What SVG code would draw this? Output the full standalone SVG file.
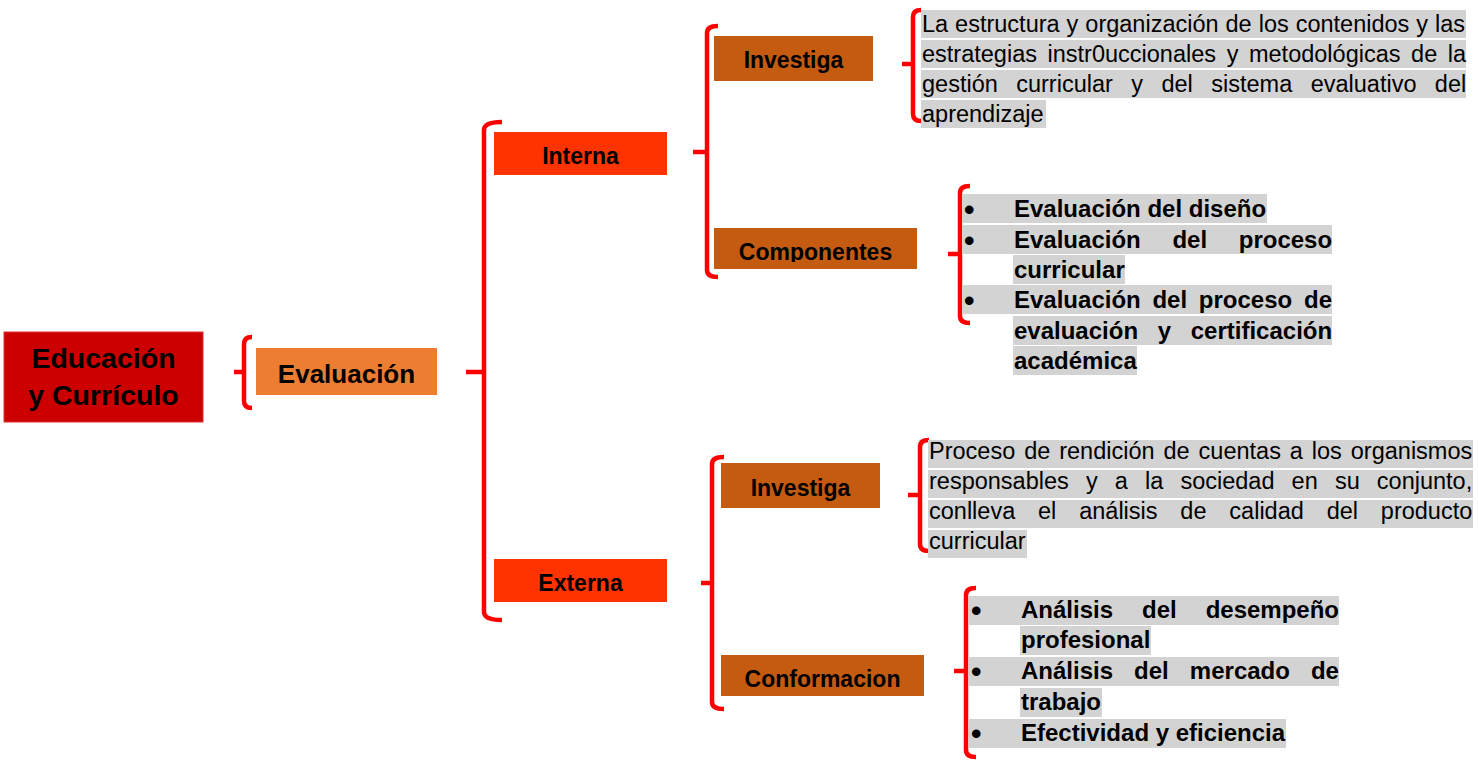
<svg xmlns="http://www.w3.org/2000/svg" width="1478" height="761" viewBox="0 0 1478 761">
<style>
.brace{fill:none;stroke:#FF0000;stroke-width:4.5;stroke-linecap:butt;stroke-linejoin:round}
.bx{font-family:"Liberation Sans",Arial,sans-serif;font-weight:bold;fill:#000;text-anchor:middle}
.p{font-family:"Liberation Sans",Arial,sans-serif;font-size:23.5px;fill:#000}
.b{font-family:"Liberation Sans",Arial,sans-serif;font-size:24px;font-weight:bold;fill:#000}
.bul{font-family:"Liberation Sans",Arial,sans-serif;font-size:30px;font-weight:bold;fill:#000}
.hl{fill:#D3D3D3}
.dk{fill:#C55A11}
.rd{fill:#FF3300}
</style>
<defs>
<clipPath id="clipComp"><rect x="714" y="228" width="203" height="34"/></clipPath>
</defs>
<rect width="1478" height="761" fill="#FFFFFF"/>

<g id="connectors">
<path class="brace" d="M252 337 Q244 337 244 344 L244 401 Q244 408 252 408 M234 372 L244 372"/>
<path class="brace" d="M502 122 Q484 122 484 130 L484 612 Q484 620 502 620 M466 372 L484 372"/>
<path class="brace" d="M718 26 Q707 26 707 33 L707 270 Q707 277 718 277 M693 152 L707 152"/>
<path class="brace" d="M724 457 Q712 457 712 464 L712 702 Q712 709 724 709 M701 583 L712 583"/>
<path class="brace" d="M921 10 Q913 10 913 17 L913 114 Q913 121 921 121 M902 64 L913 64"/>
<path class="brace" d="M970 186 Q960 186 960 193 L960 316 Q960 323 970 323 M948 254 L960 254"/>
<path class="brace" d="M929 440 Q920 440 920 447 L920 544 Q920 551 929 551 M908 495 L920 495"/>
<path class="brace" d="M976 588 Q966 588 966 595 L966 750 Q966 757 976 757 M954 671 L966 671"/>
</g>

<g id="node-educacion">
<rect x="4" y="332" width="199" height="90" fill="#CC0000" stroke="#E03030" stroke-width="1"/>
<text class="bx" x="103.5" y="368" font-size="28.5">Educación</text>
<text class="bx" x="103.5" y="405" font-size="28.5">y Currículo</text>
</g>

<g id="node-evaluacion">
<rect x="256" y="348" width="181" height="47" fill="#ED7D31"/>
<text class="bx" x="346.5" y="383" font-size="26">Evaluación</text>
</g>

<g id="node-interna">
<rect class="rd" x="494" y="132" width="173" height="43"/>
<text class="bx" x="580.5" y="164" font-size="23">Interna</text>
</g>

<g id="node-externa">
<rect class="rd" x="494" y="559" width="173" height="43"/>
<text class="bx" x="580.5" y="591" font-size="23">Externa</text>
</g>

<g id="node-investiga-interna">
<rect class="dk" x="714" y="36" width="159" height="45"/>
<text class="bx" x="793.5" y="68" font-size="23">Investiga</text>
</g>

<g id="node-componentes">
<rect class="dk" x="714" y="228" width="203" height="41"/>
<text class="bx" x="815.5" y="260" font-size="23" clip-path="url(#clipComp)">Componentes</text>
</g>

<g id="node-investiga-externa">
<rect class="dk" x="721" y="463" width="159" height="45"/>
<text class="bx" x="800.5" y="496" font-size="23">Investiga</text>
</g>

<g id="node-conformacion">
<rect class="dk" x="721" y="655" width="203" height="41"/>
<text class="bx" x="822.5" y="687" font-size="23">Conformacion</text>
</g>

<g id="node-texto-interna">
<rect class="hl" x="921" y="10" width="545" height="28"/>
<rect class="hl" x="921" y="40" width="545" height="28"/>
<rect class="hl" x="921" y="70" width="545" height="28"/>
<rect class="hl" x="921" y="100" width="125" height="28"/>
<text class="p" x="922" y="32" style="word-spacing:0.45px">La estructura y organización de los contenidos y las</text>
<text class="p" x="922" y="62" style="word-spacing:4.06px">estrategias instr0uccionales y metodológicas de la</text>
<text class="p" x="922" y="92" style="word-spacing:11.9px">gestión curricular y del sistema evaluativo del</text>
<text class="p" x="922" y="122">aprendizaje</text>
</g>

<g id="node-lista-componentes">
<rect class="hl" x="962" y="194" width="305" height="29"/>
<rect class="hl" x="962" y="225" width="370" height="29"/>
<rect class="hl" x="1013" y="255" width="112" height="29"/>
<rect class="hl" x="962" y="285" width="370" height="29"/>
<rect class="hl" x="1013" y="316" width="319" height="29"/>
<rect class="hl" x="1013" y="346" width="124" height="29"/>
<text class="bul" x="964" y="220">•</text>
<text class="bul" x="964" y="251">•</text>
<text class="bul" x="964" y="311">•</text>
<text class="b" x="1014" y="217">Evaluación del diseño</text>
<text class="b" x="1014" y="248" style="word-spacing:25px">Evaluación del proceso</text>
<text class="b" x="1014" y="278">curricular</text>
<text class="b" x="1014" y="308" style="word-spacing:5.07px">Evaluación del proceso de</text>
<text class="b" x="1014" y="339" style="word-spacing:13px">evaluación y certificación</text>
<text class="b" x="1014" y="369">académica</text>
</g>

<g id="node-texto-externa">
<rect class="hl" x="928" y="440" width="545" height="28"/>
<rect class="hl" x="928" y="470" width="545" height="28"/>
<rect class="hl" x="928" y="500" width="545" height="28"/>
<rect class="hl" x="928" y="530" width="99" height="28"/>
<text class="p" x="929" y="459" style="word-spacing:2.4px">Proceso de rendición de cuentas a los organismos</text>
<text class="p" x="929" y="489" style="word-spacing:10.6px">responsables y a la sociedad en su conjunto,</text>
<text class="p" x="929" y="519" style="word-spacing:16.3px">conlleva el análisis de calidad del producto</text>
<text class="p" x="929" y="549">curricular</text>
</g>

<g id="node-lista-conformacion">
<rect class="hl" x="969" y="596" width="370" height="29"/>
<rect class="hl" x="1020" y="626" width="131" height="29"/>
<rect class="hl" x="969" y="657" width="370" height="29"/>
<rect class="hl" x="1020" y="688" width="82" height="29"/>
<rect class="hl" x="969" y="719" width="317" height="29"/>
<text class="bul" x="971" y="621">•</text>
<text class="bul" x="971" y="682">•</text>
<text class="bul" x="971" y="744">•</text>
<text class="b" x="1021" y="618" style="word-spacing:22.3px">Análisis del desempeño</text>
<text class="b" x="1021" y="648">profesional</text>
<text class="b" x="1021" y="679" style="word-spacing:14.4px">Análisis del mercado de</text>
<text class="b" x="1021" y="710">trabajo</text>
<text class="b" x="1021" y="741">Efectividad y eficiencia</text>
</g>
</svg>
